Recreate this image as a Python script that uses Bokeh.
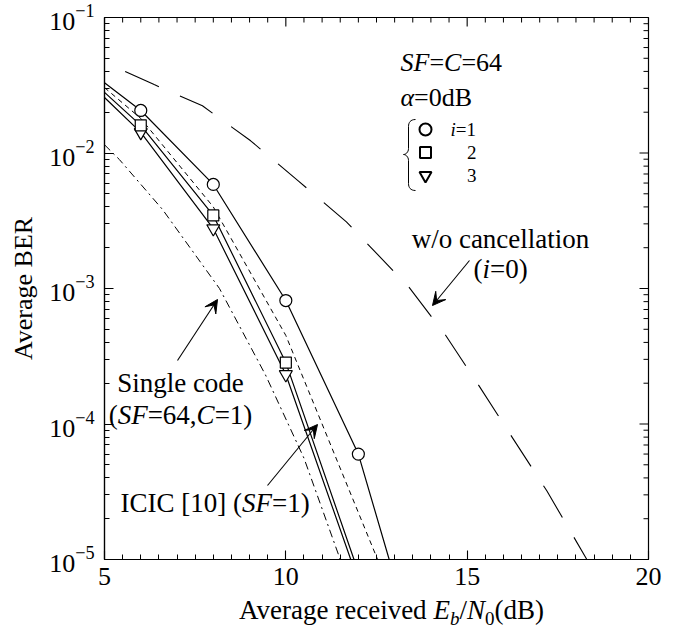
import numpy as np
from bokeh.plotting import figure
from bokeh.models import FixedTicker, Range1d, Label, Arrow, VeeHead, Div
from bokeh.layouts import column
from bokeh.embed import file_html
from bokeh.resources import INLINE

FONT = "Liberation Serif"

# ---------------- data ----------------
x_i1 = [5, 6, 8, 10, 12, 12.85]
ber_i1 = [3.3e-2, 2.06e-2, 5.86e-3, 8.15e-4, 6.0e-5, 1.0e-5]
x_i2 = [5, 6, 8, 10, 11.88]
ber_i2 = [2.8e-2, 1.6e-2, 3.46e-3, 2.84e-4, 1.0e-5]
x_i3 = [5, 6, 8, 10, 11.79]
ber_i3 = [2.57e-2, 1.42e-2, 2.77e-3, 2.32e-4, 1.0e-5]

mk_x_i1 = [6, 8, 10, 12]
mk_i1 = [2.06e-2, 5.86e-3, 8.15e-4, 6.0e-5]
mk_x_i23 = [6, 8, 10]
mk_i2 = [1.6e-2, 3.46e-3, 2.84e-4]
mk_i3 = [1.42e-2, 2.77e-3, 2.32e-4]

x_icic = [5, 6, 8, 10, 12.53]
ber_icic = [3.04e-2, 1.8e-2, 4.0e-3, 4.5e-4, 1.0e-5]

x_single = [5, 5.41, 6.6, 8.17, 9.44, 10.5, 11.5]
ber_single = [1.15e-2, 8.95e-3, 3.83e-3, 1.0e-3, 2.3e-4, 5.6e-5, 1.0e-5]

x_wo = [5.57, 6.37, 7.7, 9.03, 10.35, 11.67, 13.4, 14.41, 15.28, 16.15, 17.2, 18.3]
ber_wo = [4.0e-2, 3.2e-2, 2.23e-2, 1.23e-2, 6.2e-3, 3.1e-3, 1.02e-3, 4.5e-4, 2.0e-4, 8.7e-5, 3.2e-5, 1.0e-5]

x_major = [5, 10, 15, 20]
x_tick_labels = ["5", "10", "15", "20"]
y_major = [1e-5, 1e-4, 1e-3, 1e-2, 1e-1]

x_minor = [float(v) for v in np.arange(5, 20.001, 0.5) if v not in x_major]
y_minor = [m * 10.0 ** e for e in range(-5, -1) for m in range(2, 10)]

# ---------------- figure ----------------
W, H = 665, 599
ML, MR, MT, MB = 104, 17, 17, 40
p = figure(width=W, height=H, x_range=Range1d(5, 20), y_range=Range1d(1e-5, 1e-1),
           y_axis_type="log", output_backend="svg", toolbar_location=None,
           min_border_left=ML, min_border_right=MR, min_border_top=MT, min_border_bottom=MB,
           background_fill_color="white", border_fill_color="white")
p.grid.visible = False
p.outline_line_color = "black"
p.outline_line_width = 1.2

# frame geometry in page pixels (8px page margin)
FX0, FX1 = 8 + ML, 8 + W - MR
FY0, FY1 = 8 + MT, 8 + H - MB


def dx(px):
    return 5 + (px - FX0) / (FX1 - FX0) * 15


def dy(py):
    return 10 ** (-1 - (py - FY0) / (FY1 - FY0) * 4)


def style_axis(ax):
    ax.axis_line_color = "black"
    ax.axis_line_width = 1.2
    ax.major_tick_in = 9
    ax.major_tick_out = 0
    ax.minor_tick_in = 5
    ax.minor_tick_out = 0
    ax.major_tick_line_color = "black"
    ax.minor_tick_line_color = "black"
    ax.major_tick_line_width = 1.1
    ax.minor_tick_line_width = 1.0
    ax.major_label_text_font = FONT
    ax.major_label_text_color = "black"
    ax.major_label_text_font_size = "26px"


xax = p.below[0]
xax.ticker = FixedTicker(ticks=x_major, minor_ticks=x_minor)
xax.major_label_overrides = {v: s for v, s in zip(x_major, x_tick_labels)}
style_axis(xax)
xax.major_label_standoff = 8

yax = p.left[0]
yax.ticker = FixedTicker(ticks=y_major, minor_ticks=y_minor)
style_axis(yax)
yax.major_label_standoff = 10
yax.axis_label = "Average BER"
yax.axis_label_text_font = FONT
yax.axis_label_text_font_size = "26px"
yax.axis_label_text_font_style = "normal"
yax.axis_label_text_color = "black"
yax.axis_label_standoff = 8

# mirrored inward ticks on the top and right frame edges
y_top, y_maj_end, y_min_end = 1e-1, dy(FY0 + 9), dy(FY0 + 5)
p.segment(x0=x_major, y0=[y_top] * len(x_major), x1=x_major, y1=[y_maj_end] * len(x_major),
          line_color="black", line_width=1.1)
p.segment(x0=x_minor, y0=[y_top] * len(x_minor), x1=x_minor, y1=[y_min_end] * len(x_minor),
          line_color="black", line_width=1.0)
x_maj_end, x_min_end = dx(FX1 - 9), dx(FX1 - 5)
p.segment(x0=[20] * len(y_major), y0=y_major, x1=[x_maj_end] * len(y_major), y1=y_major,
          line_color="black", line_width=1.1)
p.segment(x0=[20] * len(y_minor), y0=y_minor, x1=[x_min_end] * len(y_minor), y1=y_minor,
          line_color="black", line_width=1.0)

# ---------------- curves ----------------
p.line(x_wo, ber_wo, line_color="black", line_width=1.1, line_dash="37 23")
p.line(x_single, ber_single, line_color="black", line_width=1.0, line_dash="8 4 2 4")
p.line(x_icic, ber_icic, line_color="black", line_width=1.0, line_dash="5 4")
p.line(x_i3, ber_i3, line_color="black", line_width=1.2)
p.line(x_i2, ber_i2, line_color="black", line_width=1.2)
p.line(x_i1, ber_i1, line_color="black", line_width=1.2)

p.scatter(mk_x_i23, mk_i3, marker="inverted_triangle", size=13, fill_color="white",
          line_color="black", line_width=1.2)
p.scatter(mk_x_i23, mk_i2, marker="square", size=11, fill_color="white",
          line_color="black", line_width=1.2)
p.scatter(mk_x_i1, mk_i1, marker="circle", size=12, fill_color="white",
          line_color="black", line_width=1.2)

# ---------------- text helpers ----------------
TR = {' ': 250, '(': 333, ')': 333, '[': 333, ']': 333, '=': 564, ',': 250, '/': 278,
      'A': 722, 'B': 667, 'C': 667, 'E': 611, 'I': 333, 'N': 722, 'S': 556, 'F': 556,
      'a': 444, 'c': 444, 'd': 500, 'e': 444, 'g': 500, 'i': 278, 'l': 278, 'n': 500,
      'o': 500, 'r': 333, 't': 278, 'v': 500, 'w': 722, 'b': 500}
TI = {'S': 500, 'F': 611, 'C': 667, 'E': 611, 'N': 667, 'i': 278, 'b': 500, 'α': 520}


def tw(s, italic, size):
    tab = TI if italic else TR
    return sum(tab.get(c, 500) for c in s) / 1000.0 * size


def rich(parts, px, py, size, align="left"):
    """parts: (text, italic, size_factor, pixel drop)"""
    total = sum(tw(t, it, size * sf) for t, it, sf, d in parts)
    x0 = px - (total / 2 if align == "center" else 0)
    off = 0.0
    for t, it, sf, d in parts:
        p.add_layout(Label(x=dx(x0 + off), y=dy(py + d), text=t, text_font=FONT,
                           text_font_size=f"{round(size * sf)}px",
                           text_font_style="italic" if it else "normal",
                           text_baseline="middle", text_align="left", text_color="black"))
        off += tw(t, it, size * sf)


ANN = 27

rich([("SF", True, 1, 0), ("=", False, 1, 0), ("C", True, 1, 0), ("=64", False, 1, 0)], 408, 70, 26)
rich([("α", True, 1, 0), ("=0dB", False, 1, 0)], 408, 105, 26)

# legend block
leg_y = [137, 160, 183]
p.scatter([dx(433)], [dy(leg_y[0])], marker="circle", size=12, fill_color="white",
          line_color="black", line_width=2)
p.scatter([dx(433)], [dy(leg_y[1])], marker="square", size=11, fill_color="white",
          line_color="black", line_width=2)
p.scatter([dx(433)], [dy(leg_y[2])], marker="inverted_triangle", size=12, fill_color="white",
          line_color="black", line_width=2)
rich([("i", True, 1, 0), ("=1", False, 1, 0)], 458, leg_y[0], 19)
for t, yy in zip(["2", "3"], leg_y[1:]):
    p.add_layout(Label(x=dx(484), y=dy(yy), text=t, text_font=FONT, text_font_size="19px",
                       text_baseline="middle", text_align="right", text_color="black"))

# brace
bz = [((423, 127), (418, 127), (416, 130), (416, 134)),
      ((416, 156), (416, 160), (413, 162), (411, 162)),
      ((411, 162), (413, 162), (416, 164), (416, 168)),
      ((416, 191), (416, 195), (418, 198), (423, 198))]
p.bezier(x0=[dx(b[0][0]) for b in bz], y0=[dy(b[0][1]) for b in bz],
         cx0=[dx(b[1][0]) for b in bz], cy0=[dy(b[1][1]) for b in bz],
         cx1=[dx(b[2][0]) for b in bz], cy1=[dy(b[2][1]) for b in bz],
         x1=[dx(b[3][0]) for b in bz], y1=[dy(b[3][1]) for b in bz],
         line_color="black", line_width=1)
p.segment(x0=[dx(416), dx(416)], y0=[dy(134), dy(168)], x1=[dx(416), dx(416)],
          y1=[dy(156), dy(191)], line_color="black", line_width=1)

# annotations
rich([("w/o cancellation", False, 1, 0)], 508, 246, ANN, align="center")
rich([("(", False, 1, 0), ("i", True, 1, 0), ("=0)", False, 1, 0)], 481, 276, ANN)
rich([("Single code", False, 1, 0)], 188, 390, ANN, align="center")
rich([("(", False, 1, 0), ("SF", True, 1, 0), ("=64,", False, 1, 0), ("C", True, 1, 0),
      ("=1)", False, 1, 0)], 188, 422, ANN, align="center")
rich([("ICIC [10] (", False, 1, 0), ("SF", True, 1, 0), ("=1)", False, 1, 0)], 128, 510, ANN)

for (xs, ys), (xe, ye) in [((477, 268), (440, 313)), ((185, 368), (225, 307)),
                           ((275, 493), (325, 432))]:
    p.add_layout(Arrow(end=VeeHead(size=13, fill_color="black", line_color="black", line_width=1),
                       x_start=dx(xs), y_start=dy(ys), x_end=dx(xe), y_end=dy(ye),
                       line_color="black", line_width=1.1))

# x-axis title (italic E_b / N_0) as real HTML text under the plot
title_html = (
    "<div style=\"font-family:'Liberation Serif',serif;font-size:27px;line-height:22px;"
    "white-space:nowrap;color:black;position:relative;top:-5px;margin-left:234px;\">"
    "Average received <i>E</i><span style=\"font-size:19px;font-style:italic;"
    "vertical-align:-6px;line-height:0\">b</span>/<i>N</i><span style=\"font-size:19px;"
    "vertical-align:-6px;line-height:0\">0</span>(dB)</div>"
)
xtitle = Div(text=title_html, width=W, height=23)

layout = column(p, xtitle, spacing=0)
open("out.html", "w").write(file_html(layout, INLINE))
